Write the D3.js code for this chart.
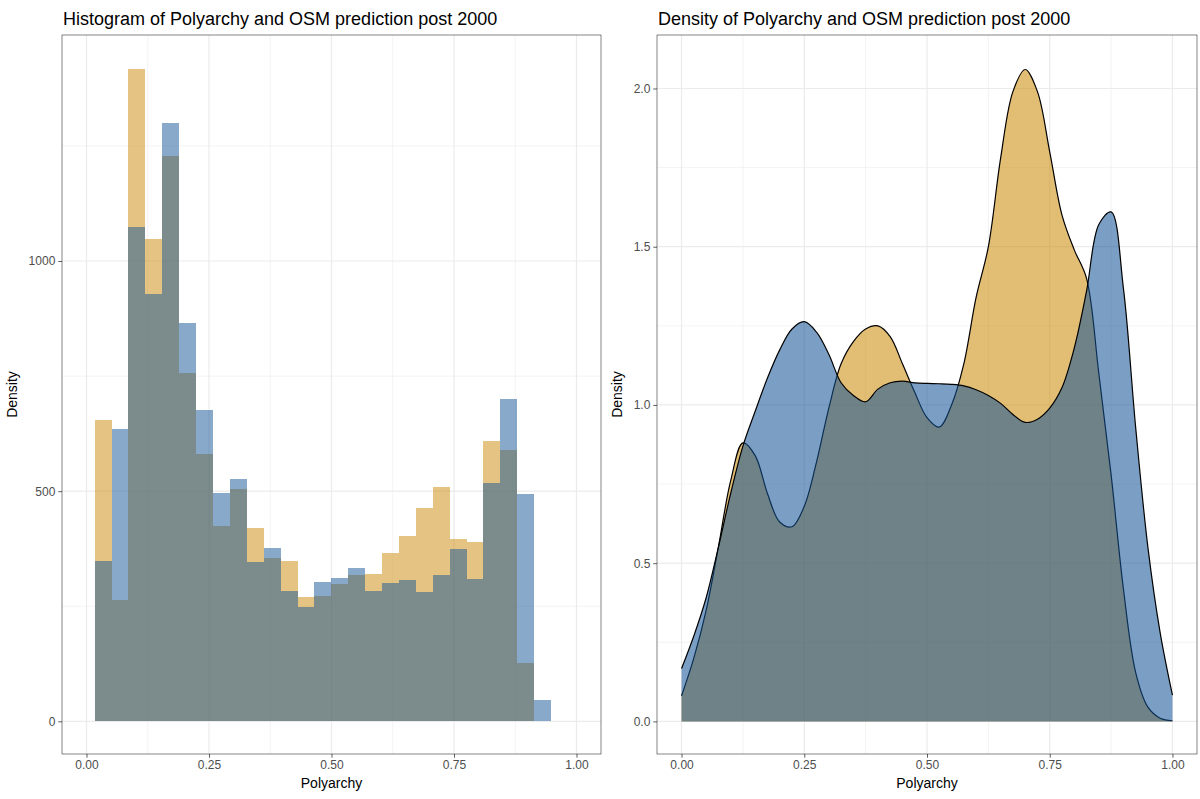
<!DOCTYPE html>
<html><head><meta charset="utf-8">
<script src="https://cdn.jsdelivr.net/npm/d3@7"></script>
<style>body{margin:0;background:#fff} text{font-family:"Liberation Sans",Arial,Helvetica,sans-serif}</style>
</head><body><svg id="c" width="1200" height="799"></svg>
<script>
// ---------- data ----------
const binEdges = [0.0167,0.0512,0.0857,0.1202,0.1547,0.1892,0.2237,0.2582,0.2927,0.3272,0.3617,0.3962,0.4307,0.4652,0.4997,0.5342,0.5687,0.6032,0.6377,0.6722,0.7067,0.7412,0.7757,0.8102,0.8447,0.8792,0.9137,0.9482];
const histPolyarchy = [654,264,1417,1048,1228,756,580,424,505,421,355,349,270,272,298,318,321,365,402,464,509,397,389,610,589,127,0];
const histOSM = [349,634,1074,929,1299,865,677,495,527,347,376,283,249,303,311,332,283,301,307,280,318,375,309,518,701,494,46];

const densityX = [0,0.025,0.05,0.075,0.1,0.125,0.15,0.175,0.2,0.225,0.25,0.275,0.3,0.325,0.35,0.375,0.4,0.425,0.45,0.475,0.5,0.525,0.55,0.575,0.6,0.625,0.65,0.675,0.7,0.725,0.75,0.775,0.8,0.825,0.85,0.875,0.9,0.925,0.95,0.975,1.0];
const densityPolyarchy = [0.081,0.20,0.35,0.55,0.76,0.88,0.84,0.72,0.63,0.615,0.68,0.82,0.99,1.13,1.20,1.24,1.25,1.216,1.13,1.04,0.96,0.93,1.00,1.13,1.34,1.50,1.78,1.99,2.06,1.99,1.80,1.60,1.49,1.40,1.10,0.78,0.42,0.155,0.045,0.01,0.002];
const densityOSM = [0.167,0.27,0.39,0.55,0.72,0.87,0.98,1.085,1.174,1.24,1.263,1.23,1.16,1.07,1.03,1.01,1.05,1.07,1.075,1.07,1.068,1.067,1.065,1.06,1.048,1.03,1.005,0.97,0.945,0.955,0.99,1.055,1.18,1.36,1.57,1.61,1.37,0.93,0.55,0.28,0.083];

const xTicks = [0,0.25,0.5,0.75,1];
const xTickLabels = ["0.00","0.25","0.50","0.75","1.00"];
const xMinor = [0.125,0.375,0.625,0.875];
const histYTicks = [0,500,1000];
const histYMinor = [250,750,1250];
const densYTicks = [0,0.5,1,1.5,2];
const densYTickLabels = ["0.0","0.5","1.0","1.5","2.0"];
const densYMinor = [0.25,0.75,1.25,1.75];

const titles = ["Histogram of Polyarchy and OSM prediction post 2000","Density of Polyarchy and OSM prediction post 2000"];
const xTitle = "Polyarchy";
const yTitle = "Density";

// ---------- styles ----------
const orange = "rgb(203,138,8)";
const blue = "rgb(20,84,150)";
const font = '"Liberation Sans",Arial,sans-serif';

const svg = d3.select("#c");

function panel(left, right, top, bottom, xDom, yDom, yTicks, yLabels, yMinor, title) {
  const x = d3.scaleLinear().domain(xDom).range([left, right]);
  const y = d3.scaleLinear().domain(yDom).range([bottom, top]);
  const g = svg.append("g");
  g.append("rect").attr("x", left).attr("y", top).attr("width", right-left).attr("height", bottom-top).attr("fill", "#fff");
  const grid = g.append("g");
  xMinor.forEach(v => grid.append("line").attr("x1", x(v)).attr("x2", x(v)).attr("y1", top).attr("y2", bottom).attr("stroke", "#EBEBEB").attr("stroke-width", 0.6));
  yMinor.forEach(v => grid.append("line").attr("y1", y(v)).attr("y2", y(v)).attr("x1", left).attr("x2", right).attr("stroke", "#EBEBEB").attr("stroke-width", 0.6));
  xTicks.forEach(v => grid.append("line").attr("x1", x(v)).attr("x2", x(v)).attr("y1", top).attr("y2", bottom).attr("stroke", "#EBEBEB").attr("stroke-width", 1.2));
  yTicks.forEach(v => grid.append("line").attr("y1", y(v)).attr("y2", y(v)).attr("x1", left).attr("x2", right).attr("stroke", "#EBEBEB").attr("stroke-width", 1.2));
  const marks = g.append("g");
  const front = g.append("g");
  front.append("rect").attr("x", left).attr("y", top).attr("width", right-left).attr("height", bottom-top)
    .attr("fill", "none").attr("stroke", "#333333").attr("stroke-width", 0.6);
  const xa = front.append("g").attr("transform", `translate(0,${bottom})`)
    .call(d3.axisBottom(x).tickValues(xTicks).tickFormat((d,i)=>xTickLabels[i]).tickSize(3.7).tickPadding(3));
  const ya = front.append("g").attr("transform", `translate(${left},0)`)
    .call(d3.axisLeft(y).tickValues(yTicks).tickFormat((d,i)=>yLabels[i]).tickSize(3.7).tickPadding(3));
  [xa, ya].forEach(a => {
    a.select(".domain").remove();
    a.selectAll(".tick line").attr("stroke", "#333333").attr("stroke-width", 0.8);
    a.selectAll(".tick text").attr("fill", "#4D4D4D").style("font-size", "12px").style("font-family", font);
  });
  let maxW = 0;
  ya.selectAll(".tick text").each(function(){ maxW = Math.max(maxW, this.getComputedTextLength()); });
  front.append("text").attr("x", (left+right)/2).attr("y", bottom+34).attr("text-anchor", "middle")
    .style("font-size", "14px").attr("fill", "#000").text(xTitle);
  front.append("text").attr("transform", `translate(${left - maxW - 18},${(top+bottom)/2}) rotate(-90)`).attr("text-anchor", "middle")
    .style("font-size", "14px").attr("fill", "#000").text(yTitle);
  front.append("text").attr("x", left+1).attr("y", top-10).style("font-size", "18px").attr("fill", "#000").text(title);
  return {x, y, marks};
}

// ---------- histogram ----------
const L = panel(62, 601, 35, 754, [-0.05, 1.05], [-71, 1491], histYTicks, histYTicks.map(String), histYMinor, titles[0]);
[[histPolyarchy, orange], [histOSM, blue]].forEach(([vals, col]) => {
  L.marks.append("g").attr("shape-rendering", "crispEdges").selectAll("rect").data(vals).join("rect")
    .attr("x", (d,i) => L.x(binEdges[i]))
    .attr("width", (d,i) => L.x(binEdges[i+1]) - L.x(binEdges[i]))
    .attr("y", d => L.y(d))
    .attr("height", d => L.y(0) - L.y(d))
    .attr("fill", col).attr("fill-opacity", 0.5);
});

// ---------- density ----------
const R = panel(657, 1197, 35, 754, [-0.05, 1.05], [-0.103, 2.169], densYTicks, densYTickLabels, densYMinor, titles[1]);
const dd = densityX.map((v,i) => ({x: v, a: densityPolyarchy[i], b: densityOSM[i]}));
[["a", orange], ["b", blue]].forEach(([k, col]) => {
  const cv = d3.curveCatmullRom.alpha(0.5);
  const area = d3.area().x(d => R.x(d.x)).y0(R.y(0)).y1(d => R.y(d[k])).curve(cv);
  const line = d3.line().x(d => R.x(d.x)).y(d => R.y(d[k])).curve(cv);
  R.marks.append("path").datum(dd).attr("d", area).attr("fill", col).attr("fill-opacity", 0.56);
  R.marks.append("path").datum(dd).attr("d", line).attr("fill", "none").attr("stroke", "#000").attr("stroke-width", 1.2);
});
</script></body></html>
